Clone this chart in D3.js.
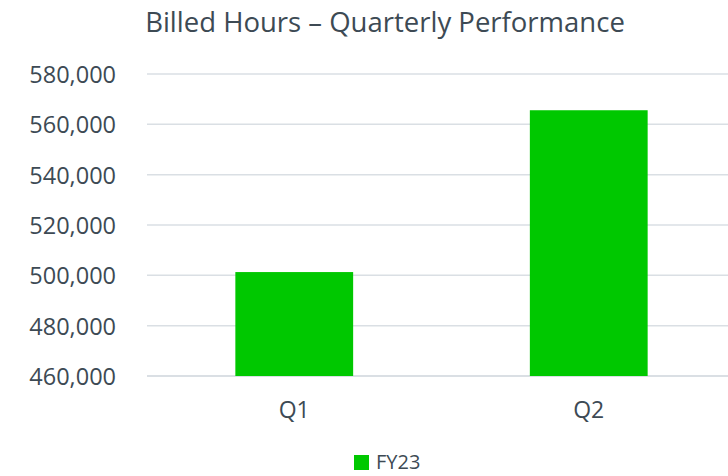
<!DOCTYPE html>
<html>
<head>
<meta charset="utf-8">
<script src="https://cdn.jsdelivr.net/npm/d3@7"></script>
<style>
	html, body { margin: 0; padding: 0; background: #fff; }
	#chart { width: 728px; height: 476px; }
</style>
</head>
<body>
<div id="chart"></div>
<script>
//data
const quarters = ['Q1', 'Q2'];
const fy23Hours = [501300, 565600];
const yTicks = [460000, 480000, 500000, 520000, 540000, 560000, 580000];
const seriesName = 'FY23';
const chartTitle = 'Billed Hours \u2013 Quarterly Performance';

render();

function render() {
	let props = {
		width: 728,
		height: 476,
		left: 147,
		right: 736,
		top: 74,
		bottom: 376,
		barColor: '#00c800',
		gridColor: '#dadfe4',
		textColor: '#3d4a54',
		font: '"Open Sans", sans-serif',
	};
	createVisualization(d3.select('#chart'), props);
}

function createVisualization(container, props) {
	let { width, height, left, right, top, bottom, barColor, gridColor, textColor, font } = props;

	const svg = container
		.append('svg')
		.attr('width', width)
		.attr('height', height)
		.style('font-family', font);

	const x = d3
		.scaleBand()
		.domain(quarters)
		.range([left, right])
		.paddingInner(0.6)
		.paddingOuter(0.3);

	const y = d3
		.scaleLinear()
		.domain([yTicks[0], yTicks[yTicks.length - 1]])
		.range([bottom, top]);

	//grid
	svg
		.append('g')
		.selectAll('line')
		.data(yTicks)
		.join('line')
		.attr('x1', left)
		.attr('x2', right)
		.attr('y1', (d) => y(d))
		.attr('y2', (d) => y(d))
		.style('stroke', gridColor)
		.style('stroke-width', (d) => (d === yTicks[0] ? 2 : 1.5));

	//y axis labels
	const yAxis = d3
		.axisLeft(y)
		.tickValues(yTicks)
		.tickFormat(d3.format(','))
		.tickSize(0)
		.tickPadding(31);
	const yg = svg.append('g').attr('transform', translation(left, 0)).call(yAxis);
	yg.select('.domain').remove();
	yg.selectAll('text')
		.style('font-family', font)
		.style('font-size', '23.5px')
		.style('fill', textColor)
		.attr('dy', '0.36em');

	//bars
	svg
		.append('g')
		.selectAll('rect')
		.data(fy23Hours)
		.join('rect')
		.attr('x', (d, i) => x(quarters[i]))
		.attr('width', x.bandwidth())
		.attr('y', (d) => y(d))
		.attr('height', (d) => y(yTicks[0]) - y(d))
		.style('fill', barColor);

	//x axis labels
	const xAxis = d3.axisBottom(x).tickSize(0).tickPadding(0);
	const xg = svg.append('g').attr('transform', translation(0, bottom)).call(xAxis);
	xg.select('.domain').remove();
	xg.selectAll('text')
		.attr('y', 42)
		.attr('dy', null)
		.style('font-family', font)
		.style('font-size', '23px')
		.style('fill', textColor);

	//title
	svg
		.append('text')
		.attr('x', 385)
		.attr('y', 32)
		.attr('text-anchor', 'middle')
		.style('font-size', '27.5px')
		.style('fill', textColor)
		.text(chartTitle);

	//legend (kept a few px off the bottom edge so the text is not clipped)
	const legend = svg.append('g').attr('transform', translation(354, 455));
	legend
		.append('rect')
		.attr('width', 15)
		.attr('height', 15)
		.style('fill', barColor);
	legend
		.append('text')
		.attr('x', 22)
		.attr('y', 14)
		.style('font-size', '20px')
		.style('fill', textColor)
		.text(seriesName);
}

//utils
function translation(x, y) {
	return `translate(${x}, ${y})`;
}
</script>
</body>
</html>
